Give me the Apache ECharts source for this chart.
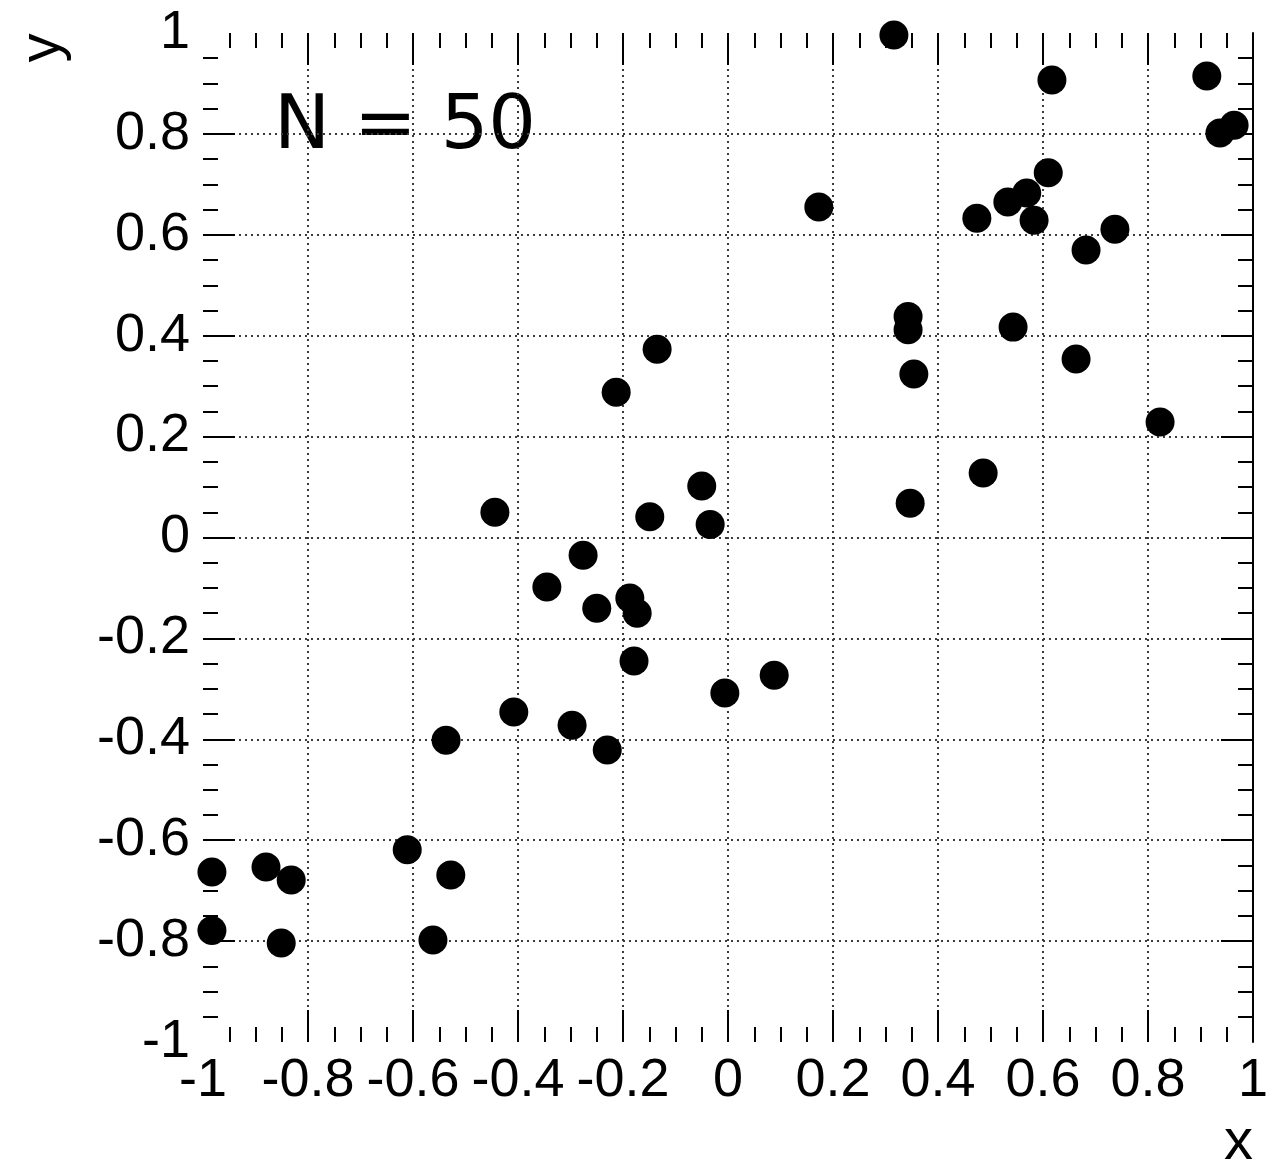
<!DOCTYPE html>
<html>
<head>
<meta charset="utf-8">
<script src="https://cdn.jsdelivr.net/npm/echarts@6/dist/echarts.min.js"></script>
<style>
  html, body { margin: 0; padding: 0; background: #ffffff; }
  #chart { width: 1272px; height: 1166px; }
</style>
</head>
<body>
<div id="chart"></div>
<script>
// Sample of correlated (x, y) pairs
const xValues = [
  0.316, 0.617, 0.912, 0.937, 0.964, 0.173, 0.474, 0.533, 0.569, 0.610,
  0.583, 0.682, 0.737, 0.343, 0.343, 0.543, 0.354, 0.663, 0.823, 0.486,
  0.347, -0.135, -0.213, -0.050, -0.034, -0.149, -0.444, -0.276, -0.345, -0.250,
  -0.187, -0.173, -0.179, -0.006, 0.088, -0.408, -0.297, -0.230, -0.537, -0.611,
  -0.528, -0.562, -0.983, -0.983, -0.880, -0.832, -0.851
];
const yValues = [
  0.996, 0.907, 0.915, 0.802, 0.817, 0.655, 0.633, 0.665, 0.683, 0.723,
  0.629, 0.570, 0.611, 0.438, 0.412, 0.417, 0.324, 0.354, 0.229, 0.128,
  0.068, 0.373, 0.288, 0.102, 0.026, 0.041, 0.050, -0.035, -0.098, -0.140,
  -0.120, -0.150, -0.245, -0.308, -0.273, -0.346, -0.372, -0.421, -0.402, -0.619,
  -0.669, -0.798, -0.663, -0.779, -0.653, -0.679, -0.804
];
const tickLabels = ['-1', '-0.8', '-0.6', '-0.4', '-0.2', '0', '0.2', '0.4', '0.6', '0.8', '1'];
const innerTicks = [-0.8, -0.6, -0.4, -0.2, 0, 0.2, 0.4, 0.6, 0.8];
const sampleSize = 50;

const points = xValues.map((x, i) => [x, yValues[i]]);
const labelFor = v => tickLabels[Math.round((v + 1) / 0.2)];

const labelFont = 'Liberation Sans, Arial, Helvetica, sans-serif';
const tickStyle = { color: '#000', width: 2 };
const gridStyle = { color: '#3a3a3a', width: 2, type: [2, 4] };

function axis(position, withLabels) {
  return {
    type: 'value',
    position: position,
    min: -1,
    max: 1,
    interval: 0.2,
    axisLine: { show: position === 'right', onZero: false, lineStyle: { color: '#000', width: 2 } },
    // major ticks only inside the frame; the frame edges carry none
    axisTick: { show: true, inside: true, length: 32, customValues: innerTicks, lineStyle: tickStyle },
    minorTick: { show: true, splitNumber: 4, length: 15, lineStyle: tickStyle },
    axisLabel: withLabels ? {
      show: true,
      color: '#000',
      fontFamily: labelFont,
      fontSize: 54,
      margin: (position === 'bottom') ? 12 : 13,
      formatter: labelFor
    } : { show: false },
    splitLine: { show: withLabels, lineStyle: gridStyle },
    minorSplitLine: { show: false }
  };
}

const chart = echarts.init(document.getElementById('chart'), null, { renderer: 'canvas' });
chart.setOption({
  backgroundColor: '#ffffff',
  animation: false,
  grid: { left: 203, right: 19, top: 33, bottom: 124, containLabel: false },
  xAxis: [axis('bottom', true), axis('top', false)],
  yAxis: [axis('left', true), axis('right', false)],
  graphic: [
    {
      type: 'text', x: 274, y: 129,
      style: {
        text: 'N = ' + sampleSize, fill: '#000',
        font: '75px "DejaVu Sans", sans-serif',
        textAlign: 'left', textVerticalAlign: 'middle'
      }
    },
    {
      type: 'text', x: 43, y: 48, rotation: Math.PI / 2,
      style: {
        text: 'y', fill: '#000',
        font: '58px "Liberation Sans", Arial, sans-serif',
        textAlign: 'center', textVerticalAlign: 'middle'
      }
    },
    {
      type: 'text', x: 1253, y: 1143,
      style: {
        text: 'x', fill: '#000',
        font: '58px "Liberation Sans", Arial, sans-serif',
        textAlign: 'right', textVerticalAlign: 'middle'
      }
    }
  ],
  series: [{
    type: 'scatter',
    xAxisIndex: 0,
    yAxisIndex: 0,
    symbol: 'circle',
    symbolSize: 29,
    clip: false,
    itemStyle: { color: '#000', opacity: 1 },
    data: points
  }]
});
</script>
</body>
</html>
